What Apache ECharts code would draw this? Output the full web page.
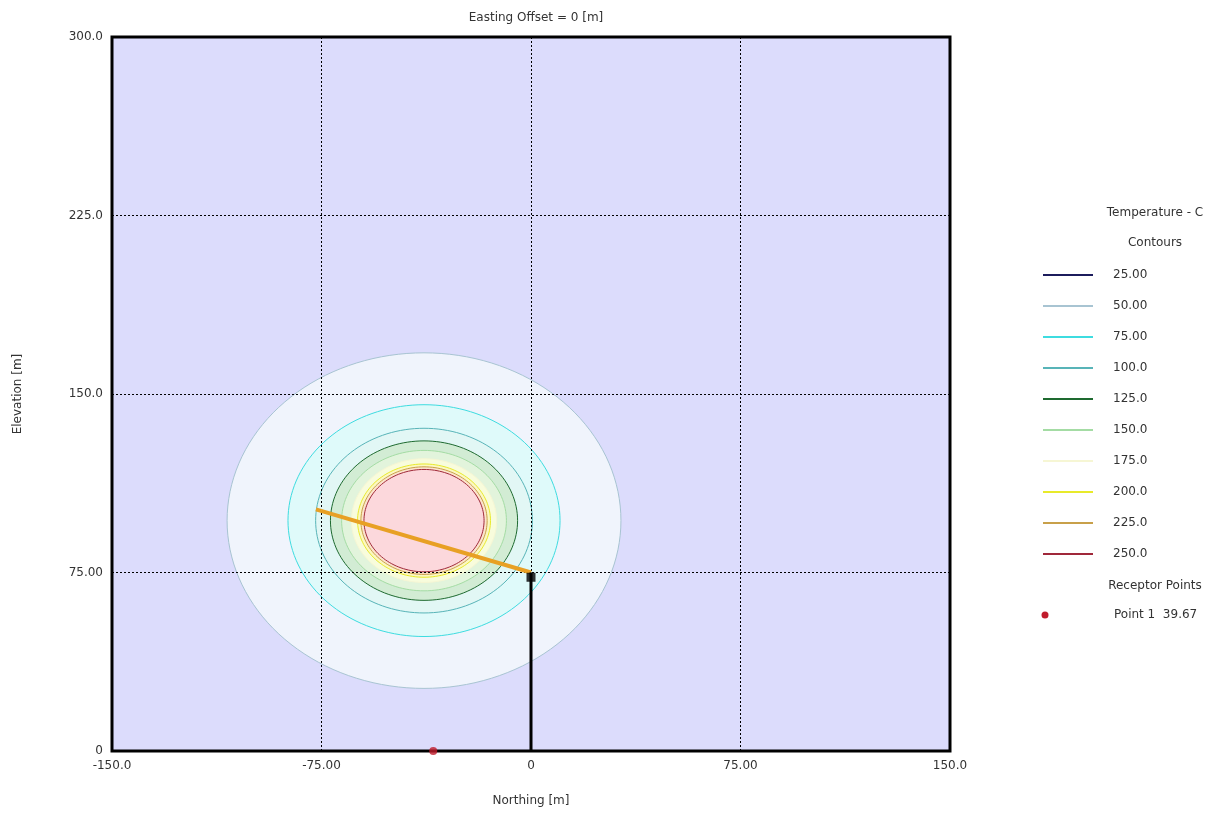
<!DOCTYPE html>
<html>
<head>
<meta charset="utf-8">
<title>Temperature contours</title>
<script src="https://cdn.jsdelivr.net/npm/echarts@6/dist/echarts.min.js"></script>
<style>
  html, body { margin: 0; padding: 0; background: #ffffff; }
  #chart { width: 1219px; height: 816px; }
</style>
</head>
<body>
<div id="chart"></div>
<script>
// Temperature contour levels (C) and their line colours
const contourLevels = [25, 50, 75, 100, 125, 150, 175, 200, 225, 250];
const contourLabels = ['25.00', '50.00', '75.00', '100.0', '125.0', '150.0', '175.0', '200.0', '225.0', '250.0'];
const contourLineColors = ['#1c1c5c', '#a8c4d2', '#3edce0', '#58b4b8', '#1e6a30', '#a4dca4', '#f6f6d4', '#e8ea2a', '#c8a04a', '#a0283a'];
// Fill of the band that lies above each level
const contourBandFills = ['#dcdcfc', '#f0f4fc', '#dffafa', '#e2f7f5', '#d2ecd4', '#e2f4dc', '#f8fcdc', '#fcf8c2', '#fce4cc', '#fcd8dc'];
// Contour radius (m) around the plume centre; the 25 C contour lies outside the section
const contourRadii = [null, 70.5, 48.7, 38.8, 33.5, 29.5, 26.0, 23.8, 22.6, 21.5];
const plumeCentre = [-38.3, 96.8];

// Stack and discharge segment (Northing, Elevation)
const stackLine = [[0, 0], [0, 75]];
const stackTop = [[0, 73]];
const dischargeLine = [[-77, 101.5], [0, 75]];

// Receptor points
const receptorNames = ['Point 1'];
const receptorValues = ['39.67'];
const receptorPoints = [[-35, 0]];

// Axis ticks
const xTickValues = [-150, -75, 0, 75, 150];
const xTickLabels = ['-150.0', '-75.00', '0', '75.00', '150.0'];
const yTickValues = [0, 75, 150, 225, 300];
const yTickLabels = ['0', '75.00', '150.0', '225.0', '300.0'];

const FONT = '"DejaVu Sans", Verdana, sans-serif';
const FS = 12;
const TEXT = '#333333';

function tickLabel(values, labels) {
  return function (v) {
    const i = values.indexOf(v);
    return i >= 0 ? labels[i] : '';
  };
}

// Contour rings, drawn from the outermost inward
const contourData = [];
for (let i = 1; i < contourLevels.length; i++) {
  if (contourRadii[i] != null) {
    contourData.push([plumeCentre[0], plumeCentre[1], contourRadii[i], i]);
  }
}

function renderContour(params, api) {
  const cx = api.value(0), cy = api.value(1), r = api.value(2), idx = api.value(3);
  const pts = [];
  const n = 144;
  for (let k = 0; k < n; k++) {
    const a = (k / n) * Math.PI * 2;
    pts.push(api.coord([cx + r * Math.cos(a), cy + r * Math.sin(a)]));
  }
  return {
    type: 'polygon',
    shape: { points: pts },
    style: {
      fill: contourBandFills[idx],
      stroke: contourLineColors[idx],
      lineWidth: 1
    }
  };
}

// Legend built from the contour and receptor arrays
const legendX = 1155;
const legendRowTop = 275;
const legendRowGap = 31;
const legendFont = FS + 'px ' + FONT;
const legendGraphics = [
  { type: 'text', x: legendX, y: 213, style: { text: 'Temperature - C', fill: TEXT, font: legendFont, textAlign: 'center', textVerticalAlign: 'middle' } },
  { type: 'text', x: legendX, y: 243, style: { text: 'Contours', fill: TEXT, font: legendFont, textAlign: 'center', textVerticalAlign: 'middle' } }
];
contourLevels.forEach(function (lv, i) {
  const y = legendRowTop + i * legendRowGap;
  legendGraphics.push({ type: 'line', shape: { x1: 1043, y1: y, x2: 1093, y2: y }, style: { stroke: contourLineColors[i], lineWidth: 2 } });
  legendGraphics.push({ type: 'text', x: 1113, y: y, style: { text: contourLabels[i], fill: TEXT, font: legendFont, textVerticalAlign: 'middle' } });
});
legendGraphics.push({ type: 'text', x: legendX, y: 586, style: { text: 'Receptor Points', fill: TEXT, font: legendFont, textAlign: 'center', textVerticalAlign: 'middle' } });
receptorNames.forEach(function (nm, i) {
  const y = 615 + i * legendRowGap;
  legendGraphics.push({ type: 'circle', shape: { cx: 1045, cy: y, r: 3.5 }, style: { fill: '#c01c2c' } });
  legendGraphics.push({ type: 'text', x: 1114, y: y, style: { text: nm + '  ' + receptorValues[i], fill: TEXT, font: legendFont, textVerticalAlign: 'middle' } });
});

const chart = echarts.init(document.getElementById('chart'), null, { renderer: 'canvas' });
chart.setOption({
  animation: false,
  backgroundColor: '#ffffff',
  title: {
    text: 'Easting Offset = 0 [m]',
    left: 531,
    top: 7,
    textAlign: 'center',
    textStyle: { fontFamily: FONT, fontSize: FS, fontWeight: 'normal', color: TEXT }
  },
  grid: {
    left: 112, right: 269, top: 37, bottom: 65,
    show: true,
    backgroundColor: contourBandFills[0],
    borderColor: '#000000',
    borderWidth: 3
  },
  xAxis: {
    type: 'value',
    min: -150, max: 150, interval: 75,
    z: 5,
    name: 'Northing [m]',
    nameLocation: 'middle',
    nameGap: 44,
    nameMoveOverlap: false,
    nameTextStyle: { fontFamily: FONT, fontSize: FS, color: TEXT, verticalAlign: 'top' },
    axisLine: { show: false },
    axisTick: { show: false },
    axisLabel: { margin: 9, fontFamily: FONT, fontSize: FS, color: TEXT, formatter: tickLabel(xTickValues, xTickLabels) },
    splitLine: { show: true, lineStyle: { color: '#000000', type: [2, 2], width: 1 } }
  },
  yAxis: {
    type: 'value',
    min: 0, max: 300, interval: 75,
    z: 5,
    name: 'Elevation [m]',
    nameLocation: 'middle',
    nameGap: 88,
    nameRotate: 90,
    nameMoveOverlap: false,
    nameTextStyle: { fontFamily: FONT, fontSize: FS, color: TEXT },
    axisLine: { show: false },
    axisTick: { show: false },
    axisLabel: { margin: 9, fontFamily: FONT, fontSize: FS, color: TEXT, formatter: tickLabel(yTickValues, yTickLabels) },
    splitLine: { show: true, lineStyle: { color: '#000000', type: [2, 2], width: 1 } }
  },
  graphic: legendGraphics,
  series: [
    {
      type: 'custom',
      name: 'Contours',
      renderItem: renderContour,
      data: contourData,
      z: 1,
      silent: true
    },
    {
      type: 'line',
      name: 'Discharge',
      data: dischargeLine,
      symbol: 'none',
      lineStyle: { color: '#e8a024', width: 4 },
      z: 6
    },
    {
      type: 'line',
      name: 'Stack',
      data: stackLine,
      symbol: 'none',
      lineStyle: { color: '#000000', width: 3 },
      z: 6
    },
    {
      type: 'scatter',
      name: 'Stack top',
      data: stackTop,
      symbol: 'rect',
      symbolSize: 9,
      itemStyle: { color: '#000000' },
      z: 7
    },
    {
      type: 'scatter',
      name: 'Receptor Points',
      data: receptorPoints,
      symbol: 'circle',
      symbolSize: 8,
      clip: false,
      itemStyle: { color: '#c01c2c' },
      z: 8
    }
  ]
});
</script>
</body>
</html>
